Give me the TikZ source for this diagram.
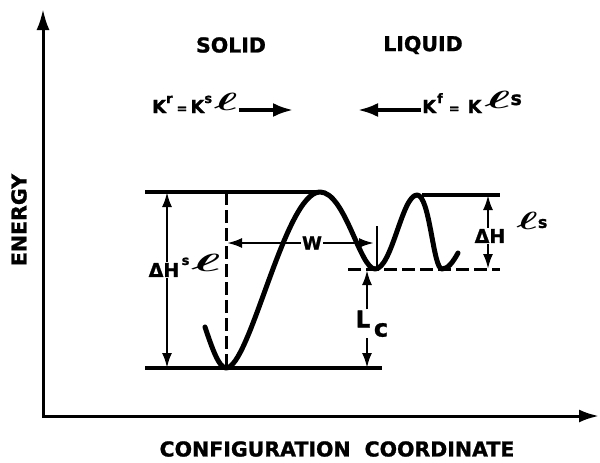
\documentclass[tikz,border=0pt]{standalone}
\usepackage{fontspec}
\usepackage{graphicx}
\setmainfont{DejaVu Sans}[BoldFeatures={FakeBold=1.2}]
\usetikzlibrary{arrows.meta}
\newcommand\fsz[1]{\fontsize{#1}{#1}\selectfont}
\newcommand\myell[1][2]{\scalebox{#1}[1]{\boldmath$\ell$}}
\begin{document}
\begin{tikzpicture}[x=1pt,y=-1pt,
  every node/.style={inner sep=1pt},
  axis/.style={line width=3pt,line join=miter,{Latex[length=21pt,width=13pt]}-{Latex[length=20pt,width=13pt]}},
  curve/.style={line width=5pt,line cap=round,line join=round},
  level/.style={line width=3.2pt},
  dimarr/.style={line width=2.4pt,-{Latex[length=15pt,width=10pt]}},
  karr/.style={line width=3.4pt,-{Latex[length=20pt,width=14pt]}},
  dashln/.style={line width=3pt,dash pattern=on 13pt off 5pt},
  big/.style={font=\bfseries\fsz{20.5}},
  mid/.style={font=\bfseries\fsz{19}},
  klab/.style={anchor=base west,font=\bfseries\fsz{18}},
]
\useasboundingbox (0,0) rectangle (600,463);

% axes
\coordinate (O) at (43,416);
\coordinate (ytip) at (43,9);
\coordinate (xtip) at (599,416);
\draw[axis] (ytip) -- (O) -- (xtip);
\node[big,rotate=90] (energy) at (19,220) {ENERGY};
\node[big] (config) at (337,449) {CONFIGURATION\hspace{14pt}COORDINATE};

% phase labels
\node[big] (solid) at (231,45) {SOLID};
\node[big] (liquid) at (423,45) {LIQUID};

% rate labels
\node[klab] (Kr) at (151,113) {K\raisebox{10pt}{\fsz{13}r}\hspace{4pt}{\fsz{13}=}\hspace{3pt}K\raisebox{10pt}{\fsz{13}s}\hspace{2pt}\raisebox{3pt}{\fsz{26}\myell[2]}};
\coordinate (rtip) at (293,110);
\draw[karr] (Kr.east |- rtip) -- (rtip);
\node[klab] (Kf) at (421,113) {K\hspace{1pt}\raisebox{10pt}{\fsz{13}f}\hspace{6pt}{\fsz{13}=}\hspace{8pt}K\hspace{3pt}\raisebox{5pt}{\fsz{26}\myell[2.2]}\raisebox{8pt}{\fsz{19}s}};
\coordinate (ltip) at (358,110);
\draw[karr] (Kf.west |- ltip) -- (ltip);

% levels
\coordinate (tl) at (145,192); \coordinate (peak1) at (320,192);
\draw[level] (tl) -- (peak1);
\coordinate (bl) at (145,368); \coordinate (br) at (382,368);
\draw[level] (bl) -- (br);
\coordinate (tr1) at (422,195); \coordinate (tr2) at (500,195);
\draw[level] (tr1) -- (tr2);
\coordinate (dl) at (348,269); \coordinate (dr) at (500,269);
\draw[dashln] (dl) -- (dr);
\coordinate (vt) at (226,192); \coordinate (vb) at (226,368);
\draw[dashln] (vt) -- (vb);

% energy curve
\draw[curve] (205,327) .. controls (212,348) and (219,368) .. (226,368)
  .. controls (250,368) and (285,192) .. (320,192)
  .. controls (345,192) and (360,269) .. (375,269)
  .. controls (392,269) and (402,195) .. (417,195)
  .. controls (430,195) and (433,269) .. (442,269)
  .. controls (448,269) and (453,262) .. (458,253);

% Delta H sl
\node[mid] (dHsl) at (164,270) {ΔH};
\node[anchor=base west,inner sep=0,font=\bfseries] (dHslsup) at ([xshift=1pt]dHsl.base east) {\raisebox{12pt}{\fsz{13}s}\hspace{2pt}\raisebox{5pt}{\fsz{26}\myell[2.5]}};
\coordinate (a1t) at (167,192); \coordinate (a1b) at (167,368);
\draw[dimarr] (dHsl.north -| a1t) -- (a1t);
\draw[dimarr] (dHsl.south -| a1b) -- (a1b);

% Delta H ls
\node[mid] (dHls) at (490,236) {ΔH};
\node[anchor=base west,inner sep=0,font=\bfseries] (dHlssup) at ([xshift=10pt]dHls.base east) {\raisebox{13pt}{\fsz{24}\myell[1.8]}\raisebox{15pt}{\fsz{16}s}};
\coordinate (a2t) at (488,195); \coordinate (a2b) at (488,269);
\draw[dimarr] (dHls.north -| a2t) -- (a2t);
\draw[dimarr] (dHls.south -| a2b) -- (a2b);

% W
\node[font=\bfseries\fsz{18}] (W) at (312,243) {W};
\coordinate (wl) at (227,243); \coordinate (wr) at (374,243);
\draw[dimarr] (W.west) -- (wl);
\draw[dimarr] (W.east) -- (wr);
\coordinate (bt) at (377,226); \coordinate (bb) at (377,268);
\draw[line width=2pt] (bt) -- (bb);

% Lc
\node[font=\bfseries\fsz{23}] (L) at (363,319) {L};
\node[font=\bfseries\fsz{24}] (c) at (381,330) {c};
\coordinate (lct) at (367,270); \coordinate (lcb) at (367,368);
\draw[dimarr] (L.north -| lct) -- (lct);
\draw[dimarr] (c.south -| lcb) -- (lcb);
\end{tikzpicture}
\end{document}
